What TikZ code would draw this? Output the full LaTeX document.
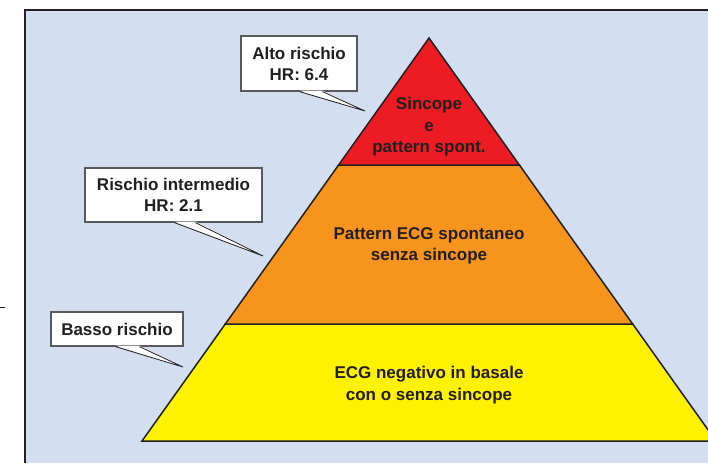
\documentclass[tikz,border=0pt]{standalone}
\usepackage{fontspec}
\setmainfont{Liberation Sans}
\usetikzlibrary{positioning}
\definecolor{panelblue}{HTML}{D3DFF1}
\definecolor{riskred}{HTML}{ED1C24}
\definecolor{riskorange}{HTML}{F7941D}
\definecolor{riskyellow}{HTML}{FFF200}
\definecolor{inkdark}{HTML}{231F20}
\definecolor{boxedge}{HTML}{58595B}

\begin{document}
\begin{tikzpicture}[x=1pt,y=-1pt,
	lvltext/.style={align=center, text=inkdark, font=\bfseries\fontsize{17}{21.5}\selectfont},
	riskbox/.style={rectangle, draw=boxedge, fill=white, line width=1.2pt, inner sep=0pt, align=center, text=inkdark, font=\bfseries\fontsize{17}{21}\selectfont},
	level/.style={draw=inkdark, line width=1.5pt},
	pointer/.style={draw=inkdark, line width=0.8pt}]
	\useasboundingbox (0,0) rectangle (708,463);
	\clip (0,0) rectangle (708,463);
	\fill[white] (0,0) rectangle (708,463);
	\fill[panelblue] (25,10) rectangle (708,463);
	\draw[inkdark, line width=1.3pt] (708,10) -- (25,10) -- (25,463);
	\draw[inkdark, line width=1pt] (0,307.5) -- (4.5,307.5);

	% pyramid levels
	\coordinate (apex) at (429,38);
	\coordinate (redL) at (338.6,165);
	\coordinate (redR) at (519.4,165);
	\coordinate (orgL) at (225.3,324);
	\coordinate (orgR) at (632.7,324);
	\coordinate (baseL) at (142,441);
	\coordinate (baseR) at (716,441);
	\filldraw[level, fill=riskyellow] (orgL) -- (orgR) -- (baseR) -- (baseL) -- cycle;
	\filldraw[level, fill=riskorange] (redL) -- (redR) -- (orgR) -- (orgL) -- cycle;
	\filldraw[level, fill=riskred] (apex) -- (redR) -- (redL) -- cycle;

	\node[lvltext] (redtxt) at (429,127) {Sincope\\e\\pattern spont.};
	\node[lvltext] (orgtxt) at (429,246) {Pattern ECG spontaneo\\senza sincope};
	\node[lvltext] (yeltxt) at (429,385) {ECG negativo in basale\\con o senza sincope};

	% risk callouts
	\node[riskbox, minimum width=116pt, minimum height=55pt] (altobox) at (299,63.5) {Alto rischio\\HR: 6.4};
	\node[riskbox, minimum width=177pt, minimum height=54pt] (intbox) at (173.5,195) {Rischio intermedio\\HR: 2.1};
	\node[riskbox, minimum width=132pt, minimum height=34pt] (bassobox) at (117,329) {Basso rischio};

	\coordinate (altotip) at (365,111);
	\coordinate (inttip) at (263,256);
	\coordinate (bassotip) at (183,367);
	\coordinate (altoA) at ([xshift=59pt]altobox.south west);
	\coordinate (altoB) at ([xshift=82pt]altobox.south west);
	\coordinate (intA) at ([xshift=90pt]intbox.south west);
	\coordinate (intB) at ([xshift=111pt]intbox.south west);
	\coordinate (bassoA) at ([xshift=65pt]bassobox.south west);
	\coordinate (bassoB) at ([xshift=89pt]bassobox.south west);

	\fill[white] ([yshift=1pt]altoA) -- (altotip) -- ([yshift=1pt]altoB) -- cycle;
	\draw[pointer] (altoA) -- (altotip) -- (altoB);
	\fill[white] ([yshift=1pt]intA) -- (inttip) -- ([yshift=1pt]intB) -- cycle;
	\draw[pointer] (intA) -- (inttip) -- (intB);
	\fill[white] ([yshift=1pt]bassoA) -- (bassotip) -- ([yshift=1pt]bassoB) -- cycle;
	\draw[pointer] (bassoA) -- (bassotip) -- (bassoB);
\end{tikzpicture}
\end{document}
